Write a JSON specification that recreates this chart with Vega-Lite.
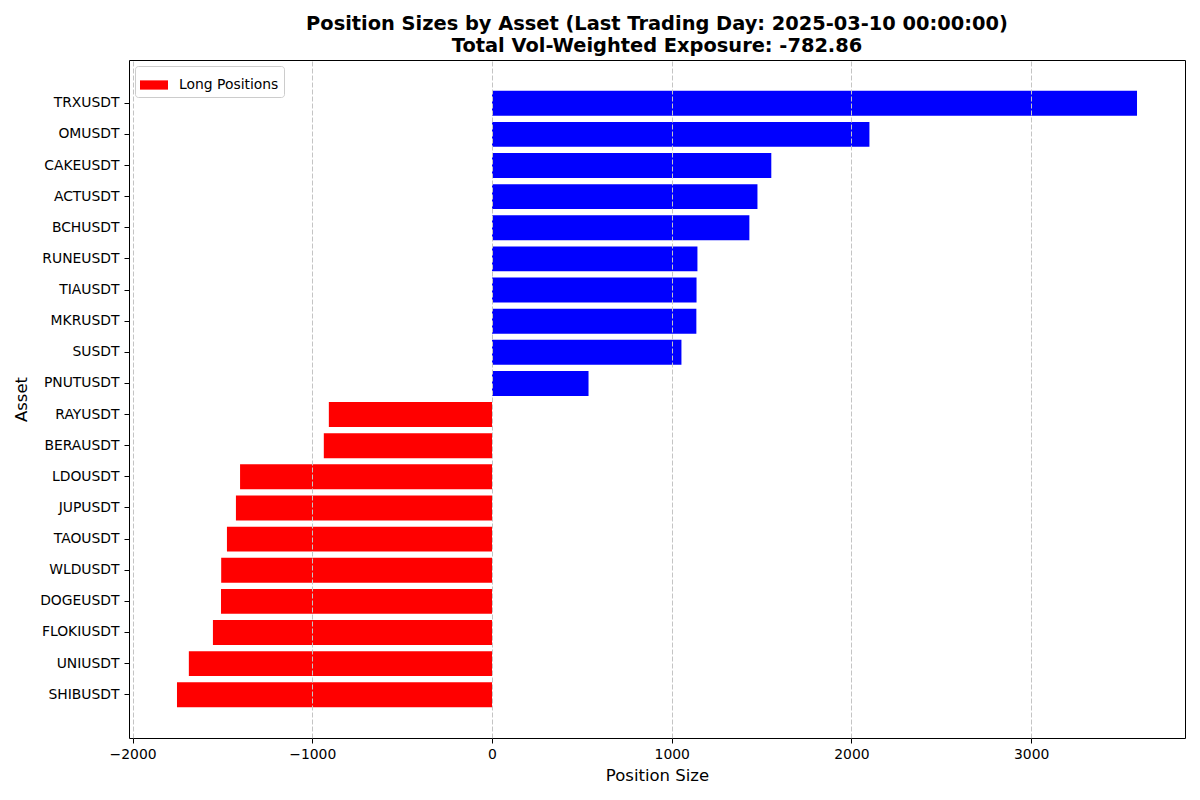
{
  "$schema": "https://vega.github.io/schema/vega-lite/v6.json",
  "width": 1056,
  "height": 678,
  "autosize": "none",
  "padding": {"left": 129, "top": 60, "right": 15, "bottom": 62},
  "background": "white",
  "title": {
    "text": ["Position Sizes by Asset (Last Trading Day: 2025-03-10 00:00:00)", "Total Vol-Weighted Exposure: -782.86"],
    "fontSize": 19.4,
    "fontWeight": "bold",
    "font": "DejaVu Sans",
    "color": "black",
    "lineHeight": 22,
    "offset": 4,
    "anchor": "middle"
  },
  "data": {
    "values": [
      {"asset": "TRXUSDT", "position": 3589, "side": "Short Positions"},
      {"asset": "OMUSDT", "position": 2100, "side": "Short Positions"},
      {"asset": "CAKEUSDT", "position": 1554, "side": "Short Positions"},
      {"asset": "ACTUSDT", "position": 1477, "side": "Short Positions"},
      {"asset": "BCHUSDT", "position": 1432, "side": "Short Positions"},
      {"asset": "RUNEUSDT", "position": 1143, "side": "Short Positions"},
      {"asset": "TIAUSDT", "position": 1138, "side": "Short Positions"},
      {"asset": "MKRUSDT", "position": 1137, "side": "Short Positions"},
      {"asset": "SUSDT", "position": 1054, "side": "Short Positions"},
      {"asset": "PNUTUSDT", "position": 537, "side": "Short Positions"},
      {"asset": "RAYUSDT", "position": -908, "side": "Long Positions"},
      {"asset": "BERAUSDT", "position": -936, "side": "Long Positions"},
      {"asset": "LDOUSDT", "position": -1402, "side": "Long Positions"},
      {"asset": "JUPUSDT", "position": -1425, "side": "Long Positions"},
      {"asset": "TAOUSDT", "position": -1475, "side": "Long Positions"},
      {"asset": "WLDUSDT", "position": -1507, "side": "Long Positions"},
      {"asset": "DOGEUSDT", "position": -1508, "side": "Long Positions"},
      {"asset": "FLOKIUSDT", "position": -1553, "side": "Long Positions"},
      {"asset": "UNIUSDT", "position": -1687, "side": "Long Positions"},
      {"asset": "SHIBUSDT", "position": -1753, "side": "Long Positions"}
    ]
  },
  "mark": {"type": "bar"},
  "encoding": {
    "y": {
      "field": "asset",
      "type": "nominal",
      "sort": "-x",
      "scale": {"paddingInner": 0.2, "paddingOuter": 0.99},
      "axis": {
        "title": "Asset",
        "titleFont": "DejaVu Sans",
        "titleFontSize": 16.5,
        "titleFontWeight": "normal",
        "titleColor": "black",
        "titlePadding": 10,
        "labelFont": "DejaVu Sans",
        "labelFontSize": 13.9,
        "labelColor": "black",
        "labelPadding": 5,
        "tickSize": 5,
        "tickColor": "black",
        "domain": false,
        "grid": false
      }
    },
    "x": {
      "field": "position",
      "type": "quantitative",
      "stack": null,
      "scale": {"domain": [-2020, 3856], "nice": false, "zero": false},
      "axis": {
        "title": "Position Size",
        "titleFont": "DejaVu Sans",
        "titleFontSize": 16.5,
        "titleFontWeight": "normal",
        "titleColor": "black",
        "titlePadding": 7,
        "values": [-2000, -1000, 0, 1000, 2000, 3000],
        "format": "d",
        "labelFont": "DejaVu Sans",
        "labelFontSize": 13.9,
        "labelColor": "black",
        "labelPadding": 4,
        "tickSize": 5,
        "tickColor": "black",
        "domain": false,
        "grid": true,
        "gridColor": "#c4c4c4",
        "gridDash": [5, 2],
        "gridWidth": 1,
        "zindex": 1
      }
    },
    "color": {
      "field": "side",
      "type": "nominal",
      "scale": {"domain": ["Long Positions", "Short Positions"], "range": ["#ff0000", "#0000ff"]},
      "legend": {
        "values": ["Long Positions"],
        "title": null,
        "orient": "top-left",
        "offset": 6,
        "symbolType": "M-1,-0.33L1,-0.33L1,0.33L-1,0.33Z",
        "symbolSize": 784,
        "symbolStrokeWidth": 0,
        "symbolOpacity": 1,
        "labelFont": "DejaVu Sans",
        "labelFontSize": 13.9,
        "labelColor": "black",
        "labelOffset": 11,
        "fillColor": "white",
        "strokeColor": "#cccccc",
        "cornerRadius": 3,
        "padding": 5
      }
    }
  },
  "config": {
    "view": {"stroke": "black", "strokeWidth": 1}
  }
}
